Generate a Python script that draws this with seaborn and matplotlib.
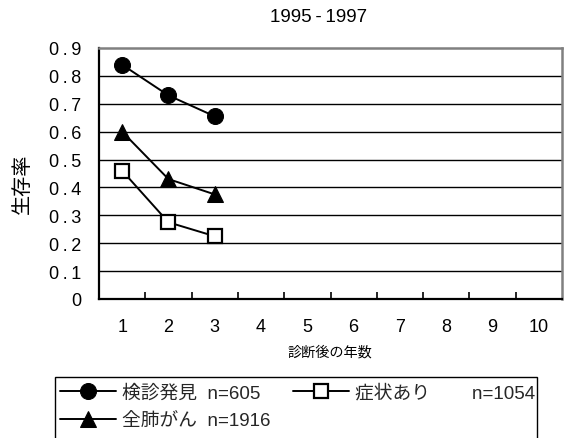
import matplotlib
matplotlib.use("Agg")
import matplotlib.pyplot as plt
from matplotlib.patches import Rectangle
from matplotlib.ticker import FixedLocator, FuncFormatter
import seaborn as sns
import pandas as pd

# Survival by years since diagnosis (1995-1997 cohort)
years = [1, 2, 3]
screening = [0.84, 0.73, 0.655]      # 検診発見
all_lung = [0.60, 0.43, 0.375]       # 全肺がん
symptomatic = [0.46, 0.275, 0.225]   # 症状あり

year_ticks = list(range(1, 11))
y_ticks = [0, 0.1, 0.2, 0.3, 0.4, 0.5, 0.6, 0.7, 0.8, 0.9]

title = "1995\u2009-\u20091997"
x_label = "診断後の年数"
y_label = "生存率"
label_screening = "検診発見  n=605"
label_all = "全肺がん  n=1916"
label_symptom = "症状あり        n=1054"

THIN = "\u2009"

sns.set_theme(style="white")
plt.rcParams["font.family"] = ["Liberation Sans", "Noto Sans CJK JP", "DejaVu Sans"]

W, H = 564, 439
fig = plt.figure(figsize=(W / 100, H / 100), dpi=100)
ax = fig.add_axes([99 / W, 1 - 300 / H, (562 - 99) / W, (300 - 49) / H])

df_s = pd.DataFrame({"year": years, "rate": screening})
df_a = pd.DataFrame({"year": years, "rate": all_lung})
df_y = pd.DataFrame({"year": years, "rate": symptomatic})

sns.lineplot(data=df_s, x="year", y="rate", ax=ax, color="black", lw=1.4,
             marker="o", markersize=11.5, markerfacecolor="black",
             markeredgecolor="black", label=label_screening, zorder=5)
sns.lineplot(data=df_y, x="year", y="rate", ax=ax, color="black", lw=1.4,
             marker="s", markersize=10, markerfacecolor="white",
             markeredgecolor="black", markeredgewidth=1.6,
             label=label_symptom, zorder=5)
sns.lineplot(data=df_a, x="year", y="rate", ax=ax, color="black", lw=1.4,
             marker="^", markersize=11.5, markerfacecolor="black",
             markeredgecolor="black", label=label_all, zorder=5)

ax.set_xlim(0.5, 10.5)
ax.set_ylim(0, 0.9)

# category labels at the centres, tick marks between categories
ax.xaxis.set_major_locator(FixedLocator(year_ticks))
ax.xaxis.set_minor_locator(FixedLocator([k + 0.5 for k in range(1, 10)]))
ax.tick_params(axis="x", which="major", length=0, pad=14, labelsize=13,
               colors="black")
ax.tick_params(axis="x", which="minor", direction="in", length=5, width=1.2,
               color="black", bottom=True)


def y_fmt(v, pos):
    if v == 0:
        return "0"
    s = f"{v:.1f}"
    return THIN.join(s)


ax.yaxis.set_major_locator(FixedLocator(y_ticks))
ax.yaxis.set_major_formatter(FuncFormatter(y_fmt))
ax.tick_params(axis="y", which="major", length=0, pad=13, labelsize=13,
               colors="black")

ax.grid(False)
for v in y_ticks[1:-1]:
    ax.axhline(v, color="black", lw=1.0, zorder=1)

for side in ("left", "bottom"):
    ax.spines[side].set_color("black")
    ax.spines[side].set_linewidth(1.6)
for side in ("top", "right"):
    ax.spines[side].set_color("#808080")
    ax.spines[side].set_linewidth(1.8)

ax.set_xlabel("")
ax.set_ylabel("")
fig.text(319 / W, 1 - 17 / H, title, ha="center", va="center",
         fontsize=13.5, color="black")
fig.text(330 / W, 1 - 353 / H, x_label, ha="center", va="center",
         fontsize=10.2, color="black")
fig.text(22.5 / W, 1 - 184 / H, y_label, ha="center", va="center",
         rotation=90, fontsize=14.5, color="black")

handles, labels = ax.get_legend_handles_labels()
ax.get_legend().remove()
order = [labels.index(label_screening), labels.index(label_all),
         labels.index(label_symptom)]
fig.legend([handles[i] for i in order], [labels[i] for i in order],
           loc="upper left", bbox_to_anchor=(60 / W, 1 - 385 / H),
           ncol=2, frameon=False, fontsize=13.5, handlelength=3.0,
           handletextpad=0.3, columnspacing=1.2, labelspacing=0.55,
           borderaxespad=0, borderpad=0)

# legend box runs past the lower edge of the figure
fig.patches.append(Rectangle((55 / W, -0.05), (537 - 55) / W,
                             (1 - 378 / H) + 0.05,
                             transform=fig.transFigure, fill=False,
                             edgecolor="black", lw=1.0))

fig.savefig("out.png", dpi=100)
